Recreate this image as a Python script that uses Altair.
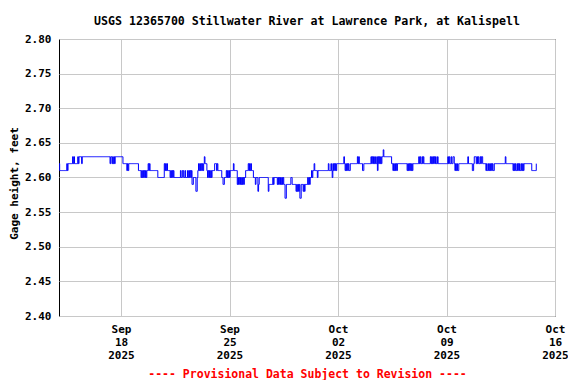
import altair as alt
import pandas as pd

title_text = "USGS 12365700 Stillwater River at Lawrence Park, at Kalispell"
y_title = "Gage height, feet"
footer_text = "---- Provisional Data Subject to Revision ----"
series_start = "2025-09-14 00:00"
y_ticks = [2.40, 2.45, 2.50, 2.55, 2.60, 2.65, 2.70, 2.75, 2.80]

# hourly gage height (feet), one row per day starting Sep 14 2025 00:00
day_values = [
    [2.62, 2.61, 2.61, 2.61, 2.61, 2.61, 2.61, 2.61, 2.61, 2.61, 2.61, 2.61, 2.62, 2.61, 2.62, 2.62, 2.62, 2.62, 2.62, 2.62, 2.62, 2.63, 2.62, 2.63],
    [2.62, 2.62, 2.62, 2.62, 2.62, 2.63, 2.62, 2.63, 2.63, 2.63, 2.63, 2.62, 2.63, 2.63, 2.63, 2.63, 2.63, 2.63, 2.63, 2.63, 2.63, 2.63, 2.63, 2.63],
    [2.63, 2.63, 2.63, 2.63, 2.63, 2.63, 2.63, 2.63, 2.63, 2.63, 2.63, 2.63, 2.63, 2.63, 2.63, 2.63, 2.63, 2.63, 2.63, 2.63, 2.63, 2.63, 2.63, 2.63],
    [2.63, 2.63, 2.63, 2.63, 2.63, 2.63, 2.63, 2.62, 2.63, 2.63, 2.62, 2.63, 2.62, 2.63, 2.62, 2.63, 2.63, 2.63, 2.63, 2.63, 2.63, 2.63, 2.63, 2.63],
    [2.63, 2.63, 2.63, 2.62, 2.62, 2.62, 2.62, 2.62, 2.62, 2.61, 2.62, 2.61, 2.62, 2.62, 2.62, 2.62, 2.62, 2.62, 2.62, 2.62, 2.62, 2.62, 2.62, 2.62],
    [2.62, 2.62, 2.62, 2.61, 2.61, 2.61, 2.61, 2.60, 2.61, 2.60, 2.61, 2.60, 2.61, 2.60, 2.61, 2.60, 2.61, 2.61, 2.62, 2.61, 2.62, 2.61, 2.61, 2.61],
    [2.61, 2.61, 2.61, 2.61, 2.61, 2.61, 2.61, 2.61, 2.61, 2.60, 2.60, 2.60, 2.60, 2.60, 2.60, 2.60, 2.60, 2.60, 2.60, 2.62, 2.61, 2.62, 2.61, 2.62],
    [2.61, 2.61, 2.61, 2.61, 2.60, 2.61, 2.60, 2.61, 2.60, 2.61, 2.60, 2.60, 2.60, 2.60, 2.60, 2.60, 2.60, 2.60, 2.60, 2.60, 2.61, 2.60, 2.60, 2.61],
    [2.61, 2.60, 2.60, 2.61, 2.60, 2.60, 2.60, 2.61, 2.60, 2.61, 2.60, 2.61, 2.60, 2.61, 2.59, 2.59, 2.60, 2.60, 2.60, 2.60, 2.58, 2.58, 2.60, 2.61],
    [2.62, 2.61, 2.62, 2.61, 2.62, 2.61, 2.62, 2.61, 2.62, 2.63, 2.62, 2.62, 2.62, 2.61, 2.60, 2.61, 2.60, 2.61, 2.60, 2.61, 2.60, 2.61, 2.61, 2.61],
    [2.61, 2.62, 2.62, 2.62, 2.61, 2.62, 2.61, 2.61, 2.61, 2.61, 2.61, 2.61, 2.60, 2.60, 2.59, 2.59, 2.60, 2.60, 2.60, 2.61, 2.60, 2.61, 2.60, 2.61],
    [2.60, 2.61, 2.61, 2.61, 2.61, 2.61, 2.62, 2.61, 2.61, 2.61, 2.61, 2.61, 2.59, 2.60, 2.59, 2.60, 2.59, 2.60, 2.59, 2.60, 2.59, 2.60, 2.59, 2.60],
    [2.60, 2.61, 2.61, 2.61, 2.61, 2.62, 2.61, 2.62, 2.61, 2.62, 2.61, 2.61, 2.61, 2.60, 2.60, 2.60, 2.59, 2.60, 2.60, 2.60, 2.58, 2.59, 2.60, 2.60],
    [2.60, 2.60, 2.60, 2.60, 2.60, 2.60, 2.60, 2.60, 2.60, 2.60, 2.60, 2.60, 2.58, 2.59, 2.59, 2.59, 2.59, 2.59, 2.59, 2.60, 2.59, 2.60, 2.60, 2.60],
    [2.60, 2.60, 2.59, 2.60, 2.59, 2.60, 2.59, 2.60, 2.59, 2.60, 2.59, 2.60, 2.59, 2.59, 2.57, 2.57, 2.59, 2.59, 2.59, 2.59, 2.59, 2.59, 2.59, 2.60],
    [2.60, 2.59, 2.59, 2.59, 2.59, 2.59, 2.59, 2.58, 2.59, 2.58, 2.59, 2.58, 2.59, 2.57, 2.57, 2.59, 2.59, 2.59, 2.58, 2.59, 2.58, 2.59, 2.59, 2.59],
    [2.59, 2.60, 2.59, 2.60, 2.59, 2.60, 2.60, 2.61, 2.60, 2.61, 2.61, 2.62, 2.61, 2.61, 2.61, 2.61, 2.60, 2.61, 2.61, 2.61, 2.61, 2.61, 2.61, 2.61],
    [2.61, 2.61, 2.61, 2.61, 2.61, 2.61, 2.61, 2.61, 2.61, 2.62, 2.61, 2.61, 2.61, 2.62, 2.61, 2.60, 2.62, 2.61, 2.62, 2.61, 2.62, 2.61, 2.62, 2.62],
    [2.62, 2.62, 2.62, 2.62, 2.62, 2.62, 2.62, 2.62, 2.62, 2.63, 2.62, 2.61, 2.62, 2.61, 2.62, 2.61, 2.62, 2.61, 2.61, 2.62, 2.62, 2.62, 2.62, 2.62],
    [2.62, 2.62, 2.62, 2.62, 2.62, 2.62, 2.63, 2.62, 2.63, 2.62, 2.62, 2.62, 2.62, 2.62, 2.61, 2.61, 2.62, 2.62, 2.62, 2.62, 2.62, 2.62, 2.62, 2.62],
    [2.62, 2.62, 2.62, 2.63, 2.62, 2.63, 2.62, 2.63, 2.62, 2.63, 2.62, 2.62, 2.63, 2.61, 2.63, 2.62, 2.63, 2.62, 2.63, 2.62, 2.63, 2.63, 2.64, 2.63],
    [2.63, 2.63, 2.63, 2.63, 2.63, 2.63, 2.63, 2.63, 2.63, 2.63, 2.63, 2.62, 2.62, 2.61, 2.62, 2.61, 2.62, 2.61, 2.62, 2.61, 2.62, 2.62, 2.62, 2.62],
    [2.62, 2.62, 2.62, 2.62, 2.62, 2.62, 2.62, 2.62, 2.62, 2.62, 2.62, 2.61, 2.62, 2.61, 2.62, 2.61, 2.62, 2.61, 2.62, 2.61, 2.62, 2.62, 2.62, 2.62],
    [2.62, 2.62, 2.62, 2.62, 2.62, 2.63, 2.62, 2.63, 2.62, 2.62, 2.63, 2.62, 2.63, 2.62, 2.62, 2.62, 2.62, 2.62, 2.62, 2.62, 2.62, 2.62, 2.62, 2.63],
    [2.62, 2.63, 2.62, 2.63, 2.62, 2.63, 2.62, 2.63, 2.62, 2.62, 2.63, 2.62, 2.62, 2.62, 2.62, 2.62, 2.62, 2.62, 2.62, 2.62, 2.62, 2.62, 2.62, 2.62],
    [2.62, 2.62, 2.63, 2.62, 2.63, 2.62, 2.62, 2.63, 2.62, 2.62, 2.63, 2.63, 2.62, 2.61, 2.62, 2.61, 2.62, 2.61, 2.61, 2.62, 2.62, 2.62, 2.62, 2.62],
    [2.62, 2.62, 2.62, 2.62, 2.62, 2.62, 2.62, 2.62, 2.62, 2.63, 2.62, 2.62, 2.62, 2.62, 2.62, 2.62, 2.61, 2.61, 2.62, 2.63, 2.63, 2.63, 2.62, 2.63],
    [2.62, 2.63, 2.62, 2.62, 2.63, 2.62, 2.63, 2.63, 2.62, 2.62, 2.62, 2.62, 2.62, 2.61, 2.62, 2.61, 2.61, 2.62, 2.61, 2.62, 2.61, 2.62, 2.61, 2.62],
    [2.61, 2.61, 2.62, 2.62, 2.62, 2.62, 2.62, 2.62, 2.62, 2.62, 2.62, 2.62, 2.62, 2.62, 2.62, 2.62, 2.62, 2.62, 2.62, 2.63, 2.62, 2.62, 2.62, 2.62],
    [2.62, 2.62, 2.62, 2.62, 2.62, 2.62, 2.62, 2.61, 2.62, 2.61, 2.62, 2.61, 2.61, 2.62, 2.61, 2.62, 2.61, 2.62, 2.61, 2.61, 2.62, 2.61, 2.62, 2.61],
    [2.62, 2.62, 2.62, 2.62, 2.62, 2.62, 2.62, 2.62, 2.62, 2.62, 2.62, 2.62, 2.61, 2.61, 2.61, 2.61, 2.61, 2.61, 2.61, 2.62],
]

values = [v for day in day_values for v in day]
times = pd.date_range(series_start, periods=len(values), freq="h")
df = pd.DataFrame({"time": times.strftime("%Y-%m-%dT%H:%M:%S"), "gage": values})

FONT = "DejaVu Sans Mono"
x_tick_dates = [
    alt.DateTime(year=2025, month=9, date=18),
    alt.DateTime(year=2025, month=9, date=25),
    alt.DateTime(year=2025, month=10, date=2),
    alt.DateTime(year=2025, month=10, date=9),
    alt.DateTime(year=2025, month=10, date=16),
]
x_domain = [alt.DateTime(year=2025, month=9, date=14), alt.DateTime(year=2025, month=10, date=16)]

chart = (
    alt.Chart(df)
    .mark_line(interpolate="step-after", color="#0000ff", strokeWidth=1)
    .encode(
        x=alt.X(
            "time:T",
            scale=alt.Scale(domain=x_domain),
            axis=alt.Axis(
                values=x_tick_dates,
                labelExpr="[timeFormat(datum.value, '%b'), timeFormat(datum.value, '%d'), timeFormat(datum.value, '%Y')]",
                labelLineHeight=13,
                labelPadding=7,
                labelAlign="center",
                labelFlush=False,
                labelOverlap=False,
                title=footer_text,
                titleColor="#ff0000",
                titleFontSize=11.5,
                titleFont=FONT,
                titleFontWeight="bold",
                titleBaseline="middle",
                titleY=58,
            ),
        ),
        y=alt.Y(
            "gage:Q",
            scale=alt.Scale(domain=[2.40, 2.80], zero=False, nice=False),
            axis=alt.Axis(
                values=y_ticks,
                format=".2f",
                labelPadding=8,
                title=y_title,
                titleFont=FONT,
                titleFontSize=11,
                titleFontWeight="bold",
                titleAngle=270,
                titleAlign="center",
                titleBaseline="middle",
                titleX=-45,
                titleY=144,
            ),
        ),
    )
    .properties(
        width=496,
        height=277,
        background="#ffffff",
        padding={"left": 51, "top": 31, "right": 13, "bottom": 64},
        autosize=alt.AutoSizeParams(type="none"),
        title=alt.TitleParams(
            title_text,
            font=FONT,
            fontSize=11.6,
            fontWeight="bold",
            color="#000000",
            anchor="middle",
            frame="group",
            baseline="alphabetic",
            offset=13,
            dy=17,
        ),
    )
    .configure_view(stroke="#000000", strokeWidth=1)
    .configure_axis(
        grid=True,
        gridColor="#c8c8c8",
        gridWidth=1,
        ticks=False,
        domain=False,
        labelFont=FONT,
        labelFontSize=11,
        labelFontWeight="bold",
        labelColor="#000000",
        titleColor="#000000",
    )
)

chart.save("out.html", embed_options={"renderer": "svg", "actions": False})
